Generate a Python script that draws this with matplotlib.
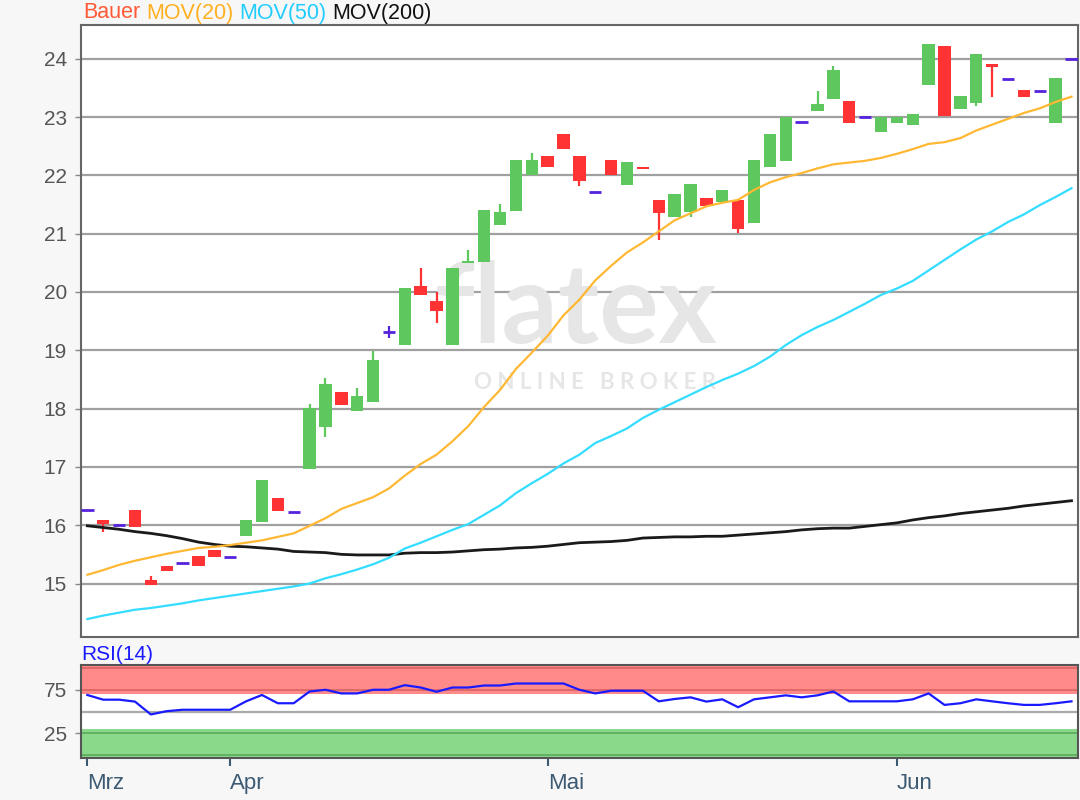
import matplotlib
matplotlib.use("Agg")
from matplotlib import pyplot as plt
import numpy as np

plt.rcParams['font.family'] = ['Liberation Sans', 'DejaVu Sans']

# daily candles (trading day index 0..62, Mrz - Jun)
opens = [16.26, 16.09, 16.00, 16.26, 15.06, 15.30, 15.36, 15.47, 15.58, 15.46,
         15.82, 16.06, 16.47, 16.22, 16.97, 17.68, 18.29, 17.96, 18.12, 19.31,
         19.09, 20.11, 19.84, 19.09, 20.50, 20.52, 21.15, 21.39, 22.00, 22.34,
         22.71, 22.34, 21.71, 22.27, 21.84, 22.15, 21.58, 21.28, 21.38, 21.62,
         21.55, 21.58, 21.18, 22.14, 22.24, 22.91, 23.10, 23.31, 23.27, 23.01,
         22.75, 22.90, 22.86, 23.55, 24.22, 23.14, 23.24, 23.91, 23.66, 23.47,
         23.45, 22.90, 24.00]
highs = [16.26, 16.09, 16.00, 16.26, 15.13, 15.30, 15.36, 15.47, 15.58, 15.46,
         16.09, 16.78, 16.47, 16.22, 18.08, 18.53, 18.29, 18.36, 18.99, 19.42,
         20.07, 20.41, 20.00, 20.41, 20.72, 21.41, 21.51, 22.27, 22.38, 22.34,
         22.71, 22.34, 21.71, 22.27, 22.23, 22.15, 21.58, 21.68, 21.85, 21.62,
         21.75, 21.58, 22.27, 22.71, 23.00, 22.91, 23.44, 23.88, 23.27, 23.01,
         23.00, 23.00, 23.06, 24.25, 24.22, 23.37, 24.08, 23.91, 23.66, 23.47,
         23.45, 23.67, 24.00]
lows = [16.26, 15.89, 16.00, 15.97, 14.97, 15.21, 15.36, 15.30, 15.45, 15.46,
        15.82, 16.06, 16.24, 16.22, 16.97, 17.51, 18.07, 17.96, 18.12, 19.21,
        19.09, 19.95, 19.47, 19.09, 20.50, 20.52, 21.15, 21.39, 22.00, 22.14,
        22.45, 21.82, 21.71, 22.00, 21.84, 22.11, 20.90, 21.28, 21.28, 21.48,
        21.55, 21.01, 21.18, 22.14, 22.24, 22.91, 23.10, 23.31, 22.90, 23.01,
        22.75, 22.90, 22.86, 23.55, 23.02, 23.14, 23.19, 23.34, 23.66, 23.34,
        23.45, 22.90, 24.00]
closes = [16.26, 16.02, 16.00, 15.97, 14.97, 15.21, 15.36, 15.30, 15.45, 15.46,
          16.09, 16.78, 16.24, 16.22, 18.01, 18.43, 18.07, 18.22, 18.84, 19.31,
          20.07, 19.95, 19.68, 20.41, 20.54, 21.41, 21.37, 22.27, 22.27, 22.14,
          22.45, 21.90, 21.71, 22.00, 22.23, 22.11, 21.35, 21.68, 21.85, 21.48,
          21.75, 21.08, 22.27, 22.71, 23.00, 22.91, 23.23, 23.81, 22.90, 23.01,
          23.00, 23.00, 23.06, 24.25, 23.02, 23.37, 24.08, 23.86, 23.66, 23.34,
          23.45, 23.67, 24.00]

mov20 = [15.15, 15.23, 15.32, 15.39, 15.45, 15.51, 15.56, 15.61, 15.63, 15.66,
         15.70, 15.74, 15.80, 15.86, 15.99, 16.12, 16.28, 16.38, 16.48, 16.63,
         16.85, 17.05, 17.21, 17.44, 17.70, 18.03, 18.32, 18.68, 18.96, 19.25,
         19.60, 19.87, 20.20, 20.45, 20.68, 20.85, 21.04, 21.23, 21.35, 21.47,
         21.53, 21.58, 21.75, 21.88, 21.97, 22.04, 22.12, 22.19, 22.22, 22.25,
         22.30, 22.37, 22.45, 22.54, 22.57, 22.64, 22.77, 22.87, 22.97, 23.07,
         23.15, 23.26, 23.35]
mov50 = [14.39, 14.45, 14.50, 14.55, 14.58, 14.62, 14.66, 14.71, 14.75, 14.79,
         14.83, 14.87, 14.91, 14.95, 15.00, 15.09, 15.16, 15.24, 15.33, 15.44,
         15.60, 15.70, 15.81, 15.92, 16.02, 16.18, 16.34, 16.55, 16.72, 16.88,
         17.06, 17.21, 17.41, 17.53, 17.66, 17.84, 17.98, 18.11, 18.24, 18.37,
         18.49, 18.60, 18.73, 18.89, 19.09, 19.26, 19.40, 19.52, 19.66, 19.80,
         19.95, 20.06, 20.19, 20.37, 20.55, 20.73, 20.90, 21.04, 21.20, 21.33,
         21.49, 21.63, 21.78]
mov200 = [15.99, 15.96, 15.93, 15.89, 15.86, 15.82, 15.77, 15.71, 15.67, 15.64,
          15.63, 15.61, 15.59, 15.55, 15.54, 15.53, 15.50, 15.49, 15.49, 15.49,
          15.52, 15.53, 15.53, 15.54, 15.56, 15.58, 15.59, 15.61, 15.62, 15.64,
          15.67, 15.70, 15.71, 15.72, 15.74, 15.78, 15.79, 15.80, 15.80, 15.81,
          15.81, 15.83, 15.85, 15.87, 15.89, 15.92, 15.94, 15.95, 15.95, 15.98,
          16.01, 16.04, 16.09, 16.13, 16.16, 16.20, 16.23, 16.26, 16.29, 16.33,
          16.36, 16.39, 16.42]
rsi14 = [69.0, 63.6, 63.6, 61.4, 46.6, 50.4, 52.0, 52.0, 52.0, 52.0,
         61.7, 69.0, 59.5, 59.5, 73.0, 75.0, 70.8, 70.8, 75.0, 75.0,
         80.3, 77.6, 72.7, 77.6, 77.6, 79.9, 79.9, 82.2, 82.2, 82.2,
         82.2, 75.0, 70.8, 73.9, 73.9, 73.9, 61.7, 64.4, 66.3, 61.4,
         64.0, 54.9, 64.0, 66.3, 68.6, 66.3, 68.6, 73.0, 61.7, 61.7,
         61.7, 61.7, 64.0, 70.8, 57.6, 59.5, 64.0, 61.7, 59.5, 57.6,
         57.6, 59.5, 61.7]

month_pos = [0, 9, 29, 51]
month_labels = ['Mrz', 'Apr', 'Mai', 'Jun']
price_ticks = [15, 16, 17, 18, 19, 20, 21, 22, 23, 24]
rsi_ticks = [25, 75]

GREEN = '#5ec75e'
RED = '#ff3333'
PURPLE = '#5522dd'

o = np.array(opens)
h = np.array(highs)
l = np.array(lows)
c = np.array(closes)
x = np.arange(len(o))

fig = plt.figure(figsize=(10.8, 8), dpi=100, facecolor='#f7f7f7')
ax = fig.add_axes([0.075, 0.204, 0.923, 0.765])
ax2 = fig.add_axes([0.075, 0.0525, 0.923, 0.11625])

# --- price panel
ax.set_facecolor('white')
ax.set_axisbelow(True)
for v in price_ticks:
    ax.axhline(v, color='#a0a0a0', lw=1.6, zorder=0)

# watermark
ax.text(0.497, 0.48, 'flatex', transform=ax.transAxes, ha='center', va='baseline',
        fontsize=80, fontweight='bold', color='#e6e6e6', family='Lato', zorder=0.5)
ax.text(0.516, 0.415, 'O N L I N E   B R O K E R', transform=ax.transAxes,
        ha='center', va='center', fontsize=16, fontweight='bold', color='#e6e6e6',
        family='Lato', zorder=0.5)

flat = c == o
col = np.where(c > o, GREEN, RED)
col[flat] = PURPLE
ax.vlines(x, l, h, colors=col, lw=1.6, zorder=3)
ax.bar(x[~flat], np.abs(c - o)[~flat], bottom=np.minimum(o, c)[~flat], width=0.78,
       color=col[~flat], linewidth=0, zorder=4)
ax.hlines(c[flat], x[flat] - 0.39, x[flat] + 0.39, colors=PURPLE, lw=2, zorder=4)

ax.plot(x, mov200, color='#1a1a1a', lw=2, zorder=5)
ax.plot(x, mov50, color='#33ddff', lw=1.6, zorder=5)
ax.plot(x, mov20, color='#ffb833', lw=1.6, zorder=5)

ax.set_xlim(-0.4, 62.4)
ax.set_ylim(14.086, 24.583)
ax.set_yticks(price_ticks)
ax.tick_params(axis='y', length=4, width=1, color='#888888', labelsize=15,
               labelcolor='#555555', pad=6)
ax.tick_params(axis='x', bottom=False, labelbottom=False)
for s in ax.spines.values():
    s.set_color('#666666')
    s.set_linewidth(1.5)

# --- RSI panel
ax2.set_facecolor('white')
ax2.axhspan(70, 110, color='#ff8a8a', lw=0, zorder=0)
ax2.axhspan(-10, 30, color='#8ad88a', lw=0, zorder=0)
for v in [100, 75]:
    ax2.axhline(v, color='#dd6666', lw=1.3, zorder=1)
for v in [25, 0]:
    ax2.axhline(v, color='#5fae5f', lw=1.3, zorder=1)
ax2.axhline(50, color='#aaaaaa', lw=1.6, zorder=1)
ax2.plot(x, rsi14, color='#1a1aff', lw=1.6, zorder=3)
ax2.set_xlim(-0.4, 62.4)
ax2.set_ylim(-3.5, 103.5)
ax2.set_yticks(rsi_ticks)
ax2.tick_params(axis='y', length=4, width=1, color='#888888', labelsize=15,
                labelcolor='#555555', pad=6)
ax2.set_xticks(month_pos, labels=month_labels)
ax2.tick_params(axis='x', length=6, width=1.5, color='#3d5a73', labelsize=16,
                labelcolor='#3d5a73', pad=5)
for lbl in ax2.get_xticklabels():
    lbl.set_horizontalalignment('left')
for s in ax2.spines.values():
    s.set_color('#555555')
    s.set_linewidth(1.5)

# --- header labels
fig.canvas.draw()
r = fig.canvas.get_renderer()
px = 83 / 1080
for s, cc in [('Bauer', '#ff5a36'), ('MOV(20)', '#ffb020'),
              ('MOV(50)', '#22ccff'), ('MOV(200)', '#111111')]:
    t = fig.text(px, 1 - 13 / 800, s, color=cc, fontsize=15.5, va='center')
    bb = t.get_window_extent(renderer=r)
    px = (bb.x1 + 6) / fig.bbox.width
fig.text(81 / 1080, 1 - 654 / 800, 'RSI(14)', color='#1a1aff', fontsize=15, va='center')

fig.savefig('out.png', dpi=100, facecolor=fig.get_facecolor())
